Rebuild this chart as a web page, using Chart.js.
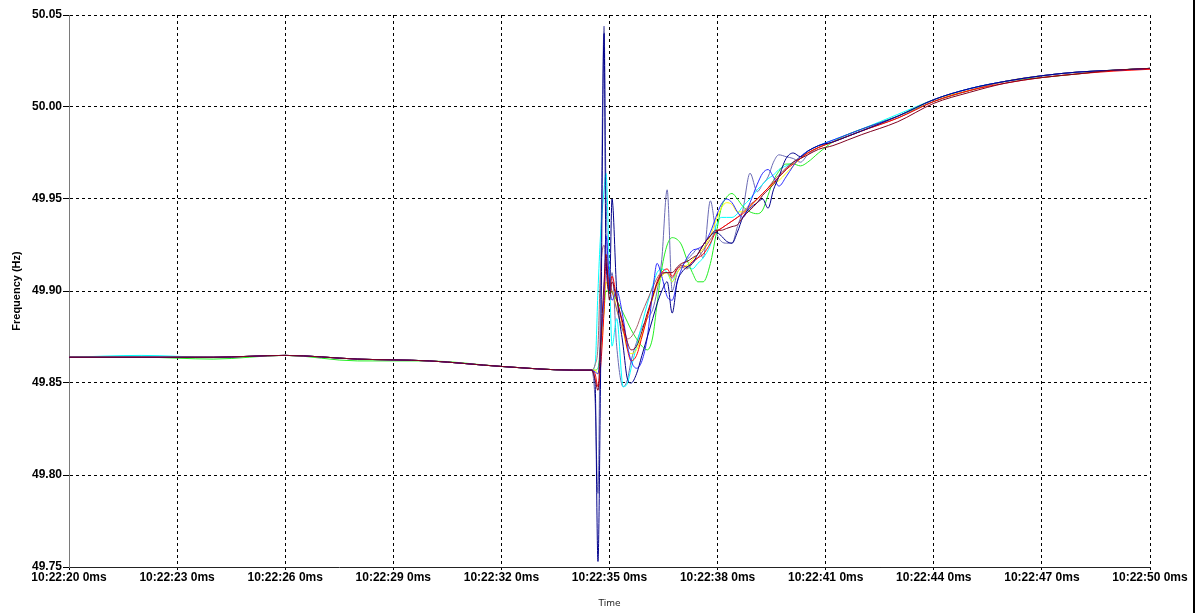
<!DOCTYPE html>
<html>
<head>
<meta charset="utf-8">
<script src="https://cdn.jsdelivr.net/npm/chart.js@4.4.1/dist/chart.umd.min.js"></script>
<style>
  body { margin: 0; background: #fff; }
  #wrap { position: relative; width: 1199px; height: 613px; }
  #edge { position: absolute; left: 1193px; top: 0; width: 2px; height: 613px; background: #000; }
</style>
</head>
<body>
<div id="wrap">
  <canvas id="freqChart"></canvas>
  <div id="edge"></div>
</div>
<script>
// seconds after 10:22:00
const times = [20, 22, 24, 26, 28, 30, 32, 34,
  34.5, 34.6, 34.68, 34.75, 34.85, 34.9,
  35.0, 35.07, 35.2, 35.38, 35.5, 35.6, 35.75, 35.9,
  36.05, 36.2, 36.32, 36.45, 36.6, 36.74, 36.88,
  37.0, 37.15, 37.3, 37.45, 37.6, 37.8, 37.95,
  38.1, 38.25, 38.4, 38.55, 38.7, 38.9,
  39.1, 39.25, 39.4, 39.55, 39.7, 39.9,
  40.1, 40.3, 40.5, 40.8,
  41.2, 41.6, 42, 43, 44, 45, 46, 47, 48, 49, 50];

const freqRed = [49.864, 49.864, 49.864, 49.865, 49.863, 49.862, 49.859, 49.857,
  49.857, 49.855, 49.848, 49.858, 49.89, 49.915,
  49.9, 49.908, 49.896, 49.88, 49.868, 49.862, 49.865, 49.875,
  49.886, 49.897, 49.905, 49.91, 49.912, 49.908, 49.912,
  49.914, 49.913, 49.916, 49.918, 49.92, 49.926, 49.932,
  49.934, 49.936, 49.938, 49.94, 49.942, 49.946,
  49.95, 49.953, 49.956, 49.959, 49.962, 49.966,
  49.969, 49.972, 49.975, 49.978,
  49.981, 49.984, 49.987, 49.994, 50.003, 50.009, 50.013, 50.016, 50.018, 50.0195, 50.0205];

const freqMaroon = [49.864, 49.864, 49.864, 49.865, 49.863, 49.862, 49.859, 49.857,
  49.857, 49.852, 49.846, 49.87, 49.905, 49.92,
  49.895, 49.905, 49.895, 49.882, 49.872, 49.868, 49.87, 49.878,
  49.888, 49.897, 49.904, 49.909, 49.91, 49.91, 49.913,
  49.915, 49.916, 49.918, 49.92, 49.925, 49.93, 49.933,
  49.933, 49.934, 49.935, 49.936, 49.94, 49.944,
  49.948, 49.952, 49.955, 49.958, 49.962, 49.966,
  49.97, 49.972, 49.974, 49.977,
  49.979, 49.982, 49.985, 49.992, 50.002, 50.008, 50.013, 50.016, 50.018, 50.02, 50.021];

const freqRosy = [49.864, 49.864, 49.864, 49.865, 49.863, 49.862, 49.859, 49.857,
  49.857, 49.86, 49.87, 49.91, 49.925, 49.915,
  49.905, 49.9, 49.89, 49.878, 49.874, 49.875, 49.88, 49.888,
  49.895, 49.902, 49.907, 49.91, 49.91, 49.907, 49.912,
  49.913, 49.912, 49.915, 49.918, 49.922, 49.928, 49.932,
  49.934, 49.936, 49.938, 49.94, 49.943, 49.947,
  49.95, 49.953, 49.956, 49.96, 49.963, 49.967,
  49.97, 49.973, 49.975, 49.978,
  49.981, 49.984, 49.987, 49.994, 50.003, 50.009, 50.014, 50.017, 50.019, 50.02, 50.021];

const freqYellow = [49.864, 49.864, 49.864, 49.865, 49.863, 49.862, 49.859, 49.857,
  49.857, 49.857, 49.855, 49.865, 49.89, 49.905,
  49.9, 49.9, 49.89, 49.878, 49.868, 49.866, 49.868, 49.876,
  49.886, 49.896, 49.903, 49.908, 49.91, 49.905, 49.91,
  49.913, 49.914, 49.917, 49.92, 49.923, 49.93, 49.938,
  49.945, 49.948, 49.947, 49.943, 49.943, 49.946,
  49.95, 49.953, 49.956, 49.958, 49.96, 49.964,
  49.968, 49.972, 49.975, 49.978,
  49.981, 49.984, 49.987, 49.995, 50.004, 50.009, 50.014, 50.017, 50.019, 50.02, 50.021];

const freqGreen = [49.864, 49.864, 49.863, 49.865, 49.862, 49.862, 49.859, 49.857,
  49.857, 49.857, 49.858, 49.87, 49.89, 49.9,
  49.9, 49.899, 49.895, 49.888, 49.883, 49.879, 49.874, 49.87,
  49.868, 49.875, 49.893, 49.912, 49.925, 49.929, 49.928,
  49.925, 49.917, 49.91, 49.905, 49.905, 49.915, 49.93,
  49.945, 49.951, 49.953, 49.95, 49.946, 49.943,
  49.942, 49.944, 49.952, 49.96, 49.965, 49.969,
  49.969, 49.968, 49.97, 49.975,
  49.981, 49.985, 49.988, 49.995, 50.003, 50.009, 50.014, 50.016, 50.018, 50.02, 50.021];

const freqCyan = [49.864, 49.865, 49.864, 49.865, 49.863, 49.862, 49.859, 49.857,
  49.857, 49.86, 49.9, 49.93, 49.955, 49.964,
  49.91, 49.87, 49.885, 49.848, 49.85, 49.858, 49.87, 49.882,
  49.893, 49.903, 49.91, 49.912, 49.91, 49.905, 49.912,
  49.914, 49.913, 49.912, 49.915, 49.918, 49.925, 49.935,
  49.94, 49.94, 49.94, 49.942, 49.946, 49.95,
  49.955, 49.958, 49.961, 49.963, 49.966, 49.968,
  49.97, 49.973, 49.976, 49.979,
  49.982, 49.985, 49.988, 49.996, 50.004, 50.01, 50.014, 50.017, 50.019, 50.02, 50.021];

const freqBlue = [49.864, 49.864, 49.864, 49.865, 49.863, 49.862, 49.859, 49.857,
  49.857, 49.856, 49.855, 49.87, 49.9, 49.93,
  49.905, 49.895, 49.9, 49.885, 49.87, 49.862, 49.858, 49.862,
  49.875, 49.9, 49.915, 49.908, 49.897, 49.895, 49.905,
  49.912, 49.918, 49.922, 49.923, 49.925, 49.932, 49.94,
  49.947, 49.95, 49.948, 49.943, 49.94, 49.948,
  49.958, 49.964, 49.966, 49.962, 49.957, 49.962,
  49.968, 49.973, 49.976, 49.979,
  49.982, 49.985, 49.988, 49.995, 50.004, 50.01, 50.014, 50.017, 50.019, 50.02, 50.021];

const freqNavy = [49.864, 49.864, 49.864, 49.865, 49.863, 49.862, 49.859, 49.857,
  49.857, 49.85, 49.753, 49.85, 50.04, 49.92,
  49.9, 49.95, 49.9, 49.87, 49.852, 49.85, 49.855, 49.865,
  49.875, 49.885, 49.893, 49.9, 49.905, 49.888, 49.905,
  49.91, 49.913, 49.915, 49.92, 49.925, 49.93, 49.932,
  49.93, 49.927, 49.926, 49.932, 49.94, 49.945,
  49.948, 49.95, 49.945, 49.955, 49.962, 49.972,
  49.975, 49.973, 49.976, 49.979,
  49.981, 49.984, 49.987, 49.995, 50.004, 50.01, 50.014, 50.017, 50.019, 50.02, 50.021];

const freqSlate = [49.864, 49.864, 49.864, 49.865, 49.863, 49.862, 49.859, 49.857,
  49.857, 49.84, 49.79, 49.9, 50.044, 49.96,
  49.9, 49.91, 49.87, 49.848, 49.852, 49.862, 49.872, 49.88,
  49.885, 49.89, 49.9, 49.917, 49.955, 49.9, 49.91,
  49.913, 49.917, 49.92, 49.923, 49.918, 49.949, 49.933,
  49.927, 49.926, 49.926, 49.935, 49.944, 49.964,
  49.954, 49.958, 49.962, 49.97, 49.974, 49.973,
  49.972, 49.97, 49.974, 49.978,
  49.981, 49.984, 49.987, 49.995, 50.004, 50.01, 50.014, 50.017, 50.019, 50.02, 50.021];

const yTicks = [49.75, 49.80, 49.85, 49.90, 49.95, 50.00, 50.05];

function pts(vals){
  return times.map(function(t, i){ return {x: t, y: vals[i]}; });
}

function serie(name, vals, color){
  return {
    label: name,
    data: pts(vals),
    borderColor: color,
    backgroundColor: color,
    borderWidth: 1,
    pointRadius: 0,
    cubicInterpolationMode: "monotone",
    fill: false
  };
}

const tickFont = { family: "'Liberation Sans', Arial, sans-serif", size: 12, weight: "bold" };

// first dataset is drawn on top
const freqChart = new Chart("freqChart", {
  type: "line",
  data: {
    datasets: [
      serie("Maroon", freqMaroon, "#800020"),
      serie("Navy", freqNavy, "#00008b"),
      serie("Blue", freqBlue, "#2a2aff"),
      serie("Red", freqRed, "#ff0000"),
      serie("Rosy", freqRosy, "#a8606c"),
      serie("Yellow", freqYellow, "#ffff00"),
      serie("Green", freqGreen, "#22ee22"),
      serie("Cyan", freqCyan, "#00ffff"),
      serie("Slate", freqSlate, "#6a6ab4")
    ]
  },
  options: {
    responsive: true,
    maintainAspectRatio: false,
    animation: false,
    layout: { padding: { top: 15, right: 49, left: 0, bottom: 0 } },
    plugins: { legend: { display: false }, tooltip: { enabled: false } },
    scales: {
      x: {
        type: "linear",
        min: 20,
        max: 50,
        afterFit: function(s){ s.height = 46; },
        ticks: {
          stepSize: 3,
          autoSkip: false,
          maxRotation: 0,
          padding: 0,
          color: "#000",
          font: tickFont,
          callback: function(v){ return "10:22:" + String(v).padStart(2, "0") + " 0ms"; }
        },
        grid: { color: "#000", lineWidth: 1, tickLength: 3 },
        border: { display: true, color: "#222", width: 1, dash: [3, 3] },
        title: { display: true, text: "Time", color: "#222", font: { family: "'DejaVu Sans', sans-serif", size: 9 }, padding: { top: 0, bottom: 4 } }
      },
      y: {
        min: 49.75,
        max: 50.05,
        afterFit: function(s){ s.width = 69; },
        afterBuildTicks: function(s){ s.ticks = yTicks.map(function(v){ return {value: v}; }); },
        ticks: {
          padding: 1,
          color: "#000",
          font: tickFont,
          callback: function(v){ return Number(v).toFixed(2); }
        },
        grid: { color: "#000", lineWidth: 1, tickLength: 6 },
        border: { display: true, color: "#7a7a7a", width: 1, dash: [3, 3] },
        title: { display: true, text: "Frequency (Hz)", color: "#000", font: { family: "'Liberation Sans', Arial, sans-serif", size: 11, weight: "bold" }, padding: { top: 10, bottom: 0 } }
      }
    }
  }
});
</script>
</body>
</html>
